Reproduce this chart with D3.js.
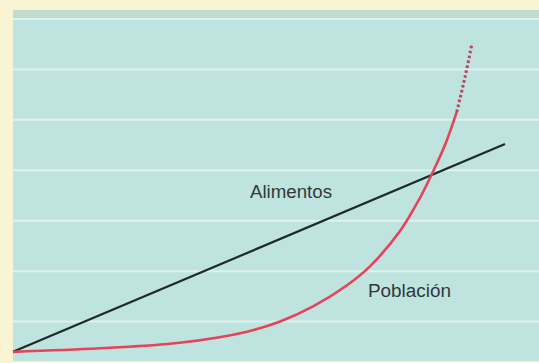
<!DOCTYPE html>
<html><head><meta charset="utf-8">
<script src="https://cdn.jsdelivr.net/npm/d3@7/dist/d3.min.js"></script>
<style>html,body{margin:0;padding:0;background:#f8f4d4;}svg{display:block;}</style>
</head><body>
<script>
// Data (abstract time 0–100, abstract quantity)
const gridValues = [1, 2, 3, 4, 5, 6, 7];
const foodTime = [0, 100];
const foodValue = [0.40, 4.52];
const popTime = [0, 17.7, 33.9, 47.6, 54.3, 61.0, 67.9, 72.6, 78.7, 82.7, 85.4, 87.8, 90.2];
const popValue = [0.40, 0.47, 0.58, 0.80, 1.00, 1.30, 1.72, 2.10, 2.80, 3.45, 3.98, 4.50, 5.16];
const projTime = [90.2, 91.9, 93.3];
const projValue = [5.16, 5.86, 6.52];
const labels = ["Alimentos", "Población"];

const W = 539, H = 363;
const panel = {x0: 13, y0: 10, x1: 539, y1: 361};
const svg = d3.select("body").append("svg").attr("width", W).attr("height", H);
svg.append("rect").attr("width", W).attr("height", H).attr("fill", "#f8f4d4");
svg.append("rect").attr("x", panel.x0).attr("y", panel.y0).attr("width", panel.x1 - panel.x0)
  .attr("height", panel.y1 - panel.y0).attr("fill", "#bfe3de");
svg.append("rect").attr("x", panel.x0).attr("y", panel.y0).attr("width", panel.x1 - panel.x0)
  .attr("height", 8).attr("fill", "#c4dccf");

const x = d3.scaleLinear().domain([0, 100]).range([13, 505]);
const y = d3.scaleLinear().domain([0, 7]).range([372, 19]);

svg.append("g").selectAll("line").data(gridValues).join("line")
  .attr("x1", panel.x0).attr("x2", panel.x1)
  .attr("y1", d => y(d)).attr("y2", d => y(d))
  .attr("stroke", "#def2ee").attr("stroke-width", 2);

const line = d3.line().x(d => x(d[0])).y(d => y(d[1])).curve(d3.curveCatmullRom.alpha(0.5));

svg.append("path").datum(d3.zip(foodTime, foodValue)).attr("d", line)
  .attr("fill", "none").attr("stroke", "#1e2a28").attr("stroke-width", 2.2);

svg.append("path").datum(d3.zip(popTime, popValue)).attr("d", line)
  .attr("fill", "none").attr("stroke", "#e5435c").attr("stroke-width", 2.6);

svg.append("path").datum(d3.zip(projTime, projValue)).attr("d", line)
  .attr("fill", "none").attr("stroke", "#e5435c").attr("stroke-width", 3.2)
  .attr("stroke-dasharray", "2.5,2.5");
svg.append("path").datum(d3.zip(projTime, projValue)).attr("d", line)
  .attr("fill", "none").attr("stroke", "#8a5a6c").attr("stroke-width", 1.6)
  .attr("stroke-dasharray", "2.5,2.5");

const labelPos = [[250, 198, 82], [368, 297, 83]];
labels.forEach((t, i) => {
  const [lx, ly, lw] = labelPos[i];
  svg.append("text").attr("x", lx).attr("y", ly).text(t)
    .attr("font-family", "'Liberation Sans Narrow', 'Liberation Sans', Arial, sans-serif")
    .attr("font-size", 18).attr("fill", "#2f3a38")
    .attr("textLength", lw).attr("lengthAdjust", "spacingAndGlyphs");
});
</script>
</body></html>
